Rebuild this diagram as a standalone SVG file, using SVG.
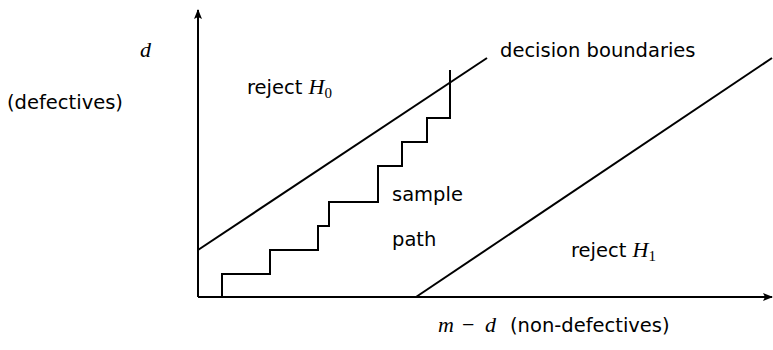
<svg xmlns="http://www.w3.org/2000/svg" width="773" height="350" viewBox="0 0 773 350">
<style>
.ln{stroke:#000;stroke-width:2;fill:none}
.t{font-family:"DejaVu Sans","Liberation Sans",sans-serif;font-size:19.5px;fill:#000}
.m{font-family:"Liberation Serif","Times New Roman",serif;font-style:italic;font-size:22px}
.r{font-family:"Liberation Serif","Times New Roman",serif;font-style:normal}
.s{font-size:15px;font-style:normal}
</style>
<defs>
<marker id="ah" viewBox="0 0 10 10" refX="9" refY="5" markerWidth="10" markerHeight="10" markerUnits="userSpaceOnUse" orient="auto">
<path d="M0,1 L10,5 L0,9 L2,5 Z" fill="#000"/>
</marker>
</defs>
<g id="connectors">
<line class="ln" x1="198" y1="297" x2="198" y2="10" marker-end="url(#ah)"/>
<line class="ln" x1="198" y1="297" x2="772" y2="297" marker-end="url(#ah)"/>
<line class="ln" x1="198" y1="250" x2="487" y2="58"/>
<line class="ln" x1="416" y1="297" x2="772" y2="58"/>
<path class="ln" d="M222,297 V274 H270 V250 H318 V226 H329 V202 H378 V166 H402 V142 H427 V118 H450 V70"/>
</g>
<g id="labels">
<text class="t m" x="140" y="57">d</text>
<text class="t" x="7" y="109">(defectives)</text>
<text class="t" x="247" y="94">reject <tspan class="m">H</tspan><tspan class="r s" dy="4">0</tspan></text>
<text class="t" x="500" y="57">decision boundaries</text>
<text class="t" x="392" y="201">sample</text>
<text class="t" x="392" y="246">path</text>
<text class="t" x="571" y="257">reject <tspan class="m">H</tspan><tspan class="r s" dy="4">1</tspan></text>
<text class="t" x="438" y="332"><tspan class="m">m</tspan><tspan class="r" font-size="22" x="462">−</tspan><tspan class="m" x="485">d</tspan><tspan x="510">(non-defectives)</tspan></text>
</g>
</svg>
